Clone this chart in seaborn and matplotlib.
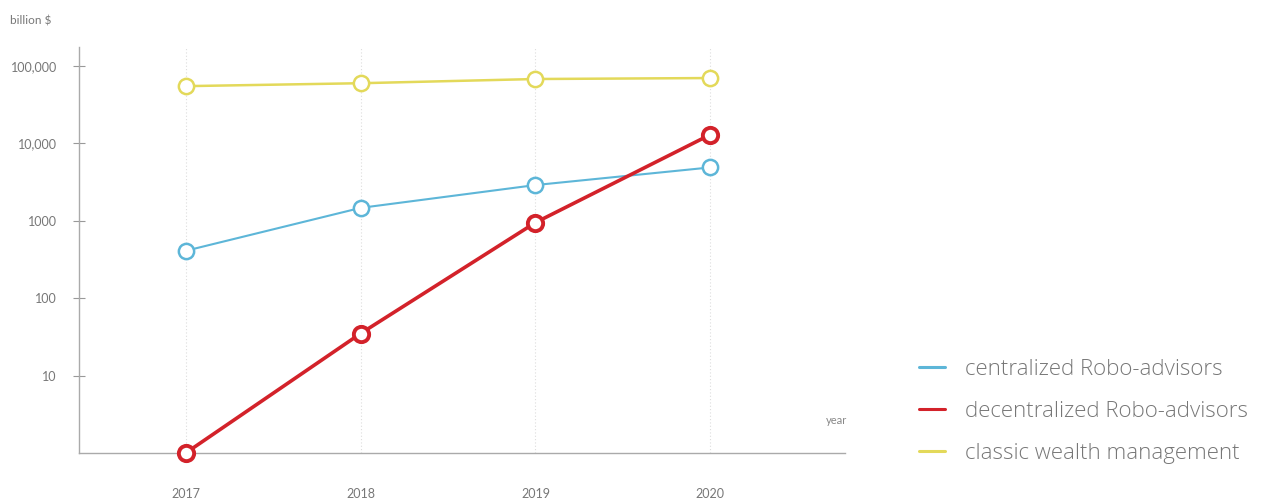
import pandas as pd
import matplotlib.pyplot as plt
import seaborn as sns
from matplotlib.lines import Line2D

years = [2017, 2018, 2019, 2020]
centralized = [410, 1470, 2900, 4900]
decentralized = [1, 35, 950, 13000]
classic = [55000, 60000, 68000, 70000]

series_names = ['centralized Robo-advisors', 'decentralized Robo-advisors', 'classic wealth management']
colors = ['#5db6d8', '#d3222a', '#e3d95a']
widths = [1.5, 2.6, 1.8]
edge_widths = [1.8, 2.8, 1.8]

y_ticks = [10, 100, 1000, 10000, 100000]
y_tick_labels = ['10', '100', '1000', '10,000', '100,000']

df = pd.DataFrame({
    'year': years * 3,
    'value': centralized + decentralized + classic,
    'series': [s for s in series_names for _ in years],
})

sns.set_style('white')
plt.rcParams['font.family'] = ['Lato', 'DejaVu Sans']

fig = plt.figure(figsize=(12.85, 5.01), dpi=100)
ax = fig.add_axes([0.0615, 0.0958, 0.5961, 0.8102])

for name, col, lw, ew in zip(series_names, colors, widths, edge_widths):
    sub = df[df['series'] == name]
    sns.lineplot(data=sub, x='year', y='value', ax=ax, color=col, linewidth=lw,
                 marker='o', markersize=11, markerfacecolor='white',
                 markeredgecolor=col, markeredgewidth=ew, legend=False,
                 clip_on=False, zorder=3)

ax.set_yscale('log')
ax.set_ylim(1, 10 ** 5.245)
ax.set_xlim(2016.39, 2020.77)

ax.set_xticks(years)
ax.set_xticklabels([str(y) for y in years])
ax.set_yticks(y_ticks)
ax.set_yticklabels(y_tick_labels)
ax.yaxis.set_minor_locator(plt.NullLocator())

ax.tick_params(axis='x', length=0, pad=25, labelsize=9, labelcolor='#777777')
ax.tick_params(axis='y', direction='inout', length=8, width=0.8, color='#999999',
               pad=12, labelsize=9, labelcolor='#777777', left=True)

for x in years:
    ax.axvline(x, color='#dddddd', linestyle=(0, (1, 2)), linewidth=0.8, zorder=0)

sns.despine(ax=ax)
for side in ['left', 'bottom']:
    ax.spines[side].set_color('#aaaaaa')
    ax.spines[side].set_linewidth(1.0)

ax.set_xlabel('')
ax.set_ylabel('')
fig.text(0.008, 0.952, 'billion $', fontsize=8.5, color='#777777')
ax.text(2020.66, 10 ** (1 - 49 / 77.7), 'year', fontsize=8, color='#888888')

leg_handles = [Line2D([], [], color=c, linewidth=2.2) for c in colors]
fig.legend(leg_handles, series_names, loc='upper left', bbox_to_anchor=(0.700, 0.324),
           frameon=False, handlelength=1.13, handletextpad=0.92,
           labelspacing=0.95, labelcolor='#777777',
           prop={'family': ['Open Sans', 'DejaVu Sans'], 'size': 16, 'weight': 'light'})

fig.savefig('out.png', dpi=100)
